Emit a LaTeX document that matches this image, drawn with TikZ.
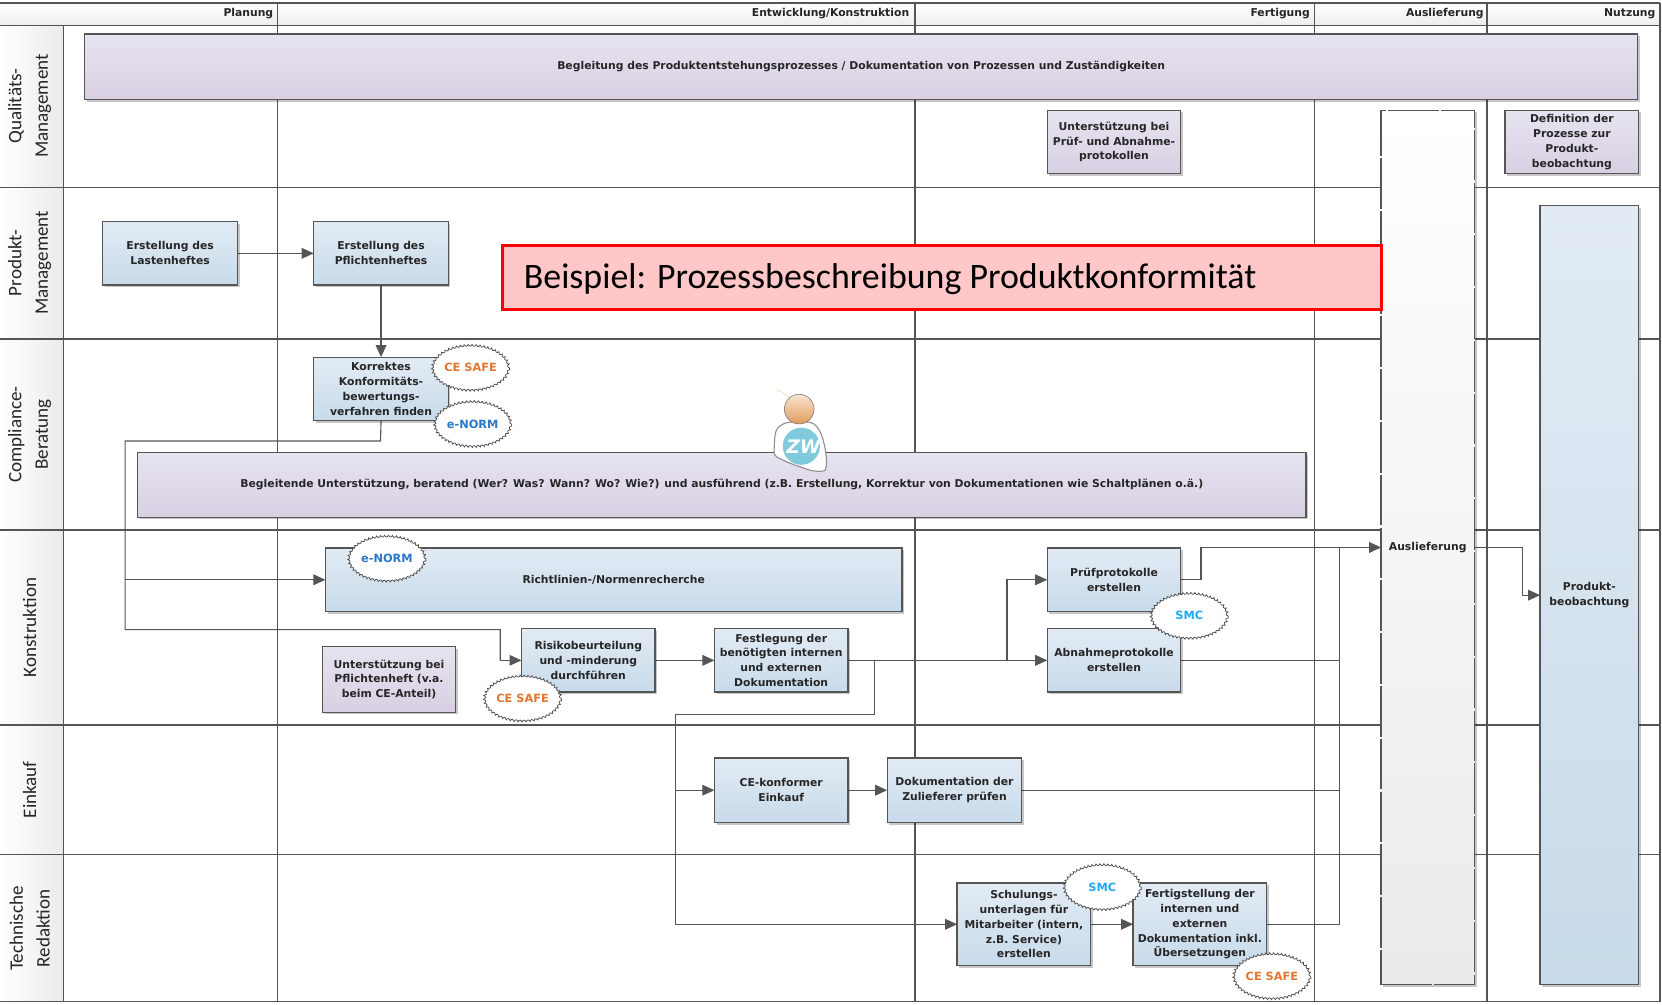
\documentclass[tikz,border=0pt]{standalone}
\usepackage{fontspec}
\setmainfont{DejaVu Sans}
\newfontfamily\carlito{Carlito}
\usetikzlibrary{arrows.meta,shapes.geometric,shadows,decorations.pathmorphing}
\pgfdeclarelayer{lanes}\pgfdeclarelayer{wires}\pgfsetlayers{lanes,wires,main}
\definecolor{ln}{HTML}{555555}
\definecolor{bluetop}{HTML}{E2EBF4}
\definecolor{bluebot}{HTML}{C8DBEA}
\definecolor{purtop}{HTML}{E7E3F0}
\definecolor{purbot}{HTML}{D8D0E2}
\tikzset{
  x=0.795pt,y=-0.795pt,
  basebox/.style={rectangle,draw=ln,line width=1pt,align=center,inner sep=0pt,outer sep=0pt,text=black!85,
    font=\fontsize{8.1}{11.1}\selectfont\bfseries,
    drop shadow={shadow xshift=1.6pt,shadow yshift=-1.6pt,opacity=.22,fill=black}},
  bluebox/.style={basebox,top color=bluetop,bottom color=bluebot},
  purplebox/.style={basebox,top color=purtop,bottom color=purbot},
  whitebox/.style={basebox,top color=white,bottom color=black!8,dash pattern=on 38pt off 1.6pt},
  conn/.style={draw=ln,line width=.85pt},
  arr/.style={conn,-{Triangle[length=9pt,width=8pt,fill=ln]}},
  lane/.style={draw=ln,line width=1.15pt},
  hdr/.style={anchor=east,inner sep=0pt,font=\fontsize{8.1}{9}\selectfont\bfseries,text=black!85},
  rowlab/.style={rotate=90,align=center,inner sep=0pt,font=\carlito\fontsize{14.3}{20}\selectfont,text=black!85},
  cloudy/.style={ellipse,draw=black!70,line width=.55pt,fill=white,decorate,
    decoration={bumps,segment length=6pt,amplitude=1.3pt},inner sep=0pt,
    minimum width=58pt,minimum height=35pt,font=\fontsize{8.5}{9}\selectfont\bfseries},
  orangetxt/.style={text={rgb,255:red,226;green,118;blue,47}},
  bluetxt/.style={text={rgb,255:red,40;green,120;blue,200}},
  skytxt/.style={text={rgb,255:red,30;green,170;blue,250}},
}
\newcommand\bx[7]{%
  \pgfmathsetmacro\bxw{(#4-#2)*0.795}\pgfmathsetmacro\bxh{(#5-#3)*0.795}%
  \pgfmathsetmacro\bxcx{(#2+#4)/2}\pgfmathsetmacro\bxcy{(#3+#5)/2}%
  \node[#6,minimum width=\bxw pt,minimum height=\bxh pt] (#1) at (\bxcx,\bxcy) {#7};}
\begin{document}
\begin{tikzpicture}
\useasboundingbox (0,0) rectangle (1568,948);
\begin{pgfonlayer}{lanes}
  \shade[top color=white,bottom color=black!7] (0,3) rectangle (1566,24);
  \shade[left color=white,right color=black!8] (0,24) rectangle (60,945);
  \draw[lane] (0,3) -- (1566,3) (0,24) -- (1566,24) (0,945) -- (1566,945) (1566,3) -- (1566,945);
  \draw[lane] (60,24) -- (60,945);
  \draw[lane] (262,3) -- (262,945);
  \draw[lane] (863,3) -- (863,945);
  \draw[lane] (1240,3) -- (1240,945);
  \draw[lane] (1403,3) -- (1403,945);
  \draw[lane] (0,177) -- (1566,177) (0,320) -- (1566,320) (0,500) -- (1566,500) (0,684) -- (1566,684) (0,806) -- (1566,806);
\end{pgfonlayer}
\node[hdr] (h1) at (258,13) {Planung};
\node[hdr] (h2) at (858,13) {Entwicklung/Konstruktion};
\node[hdr] (h3) at (1236,13) {Fertigung};
\node[hdr] (h4) at (1400,13) {Auslieferung};
\node[hdr] (h5) at (1562,13) {Nutzung};
\node[rowlab] (r1) at (28,100) {Qualitäts-\\Management};
\node[rowlab] (r2) at (28,248) {Produkt-\\Management};
\node[rowlab] (r3) at (28,410) {Compliance-\\Beratung};
\node[rowlab] (r4) at (28,592) {Konstruktion};
\node[rowlab] (r5) at (28,745) {Einkauf};
\node[rowlab] (r6) at (28,876) {Technische\\Redaktion};
\bx{qm}{80}{32}{1545}{94}{purplebox}{Begleitung des Produktentstehungsprozesses / Dokumentation von Prozessen und Zuständigkeiten}
\bx{upruef}{988}{104}{1114}{164}{purplebox}{Unterstützung bei\\Prüf- und Abnahme-\\protokollen}
\bx{defi}{1420}{104}{1546}{164}{purplebox}{Definition der\\Prozesse zur\\Produkt-\\beobachtung}
\bx{ausl}{1303}{104}{1391}{929}{whitebox}{Auslieferung}
\bx{prod}{1453}{194}{1546}{929}{bluebox}{Produkt-\\beobachtung}
\bx{last}{97}{209}{224}{269}{bluebox}{Erstellung des\\Lastenheftes}
\bx{pfl}{296}{209}{423}{269}{bluebox}{Erstellung des\\Pflichtenheftes}
\bx{korr}{296}{337}{423}{397}{bluebox}{Korrektes\\Konformitäts-\\bewertungs-\\verfahren finden}
\bx{begl}{130}{427}{1232}{488}{purplebox}{Begleitende Unterstützung, beratend (Wer? Was? Wann? Wo? Wie?) und ausführend (z.B. Erstellung, Korrektur von Dokumentationen wie Schaltplänen o.ä.)}
\bx{richt}{307}{517}{851}{577}{bluebox}{Richtlinien-/Normenrecherche}
\bx{upfl}{304}{610}{430}{672}{purplebox}{Unterstützung bei\\Pflichtenheft (v.a.\\beim CE-Anteil)}
\bx{risk}{492}{593}{618}{653}{bluebox}{Risikobeurteilung\\und -minderung\\durchführen}
\bx{fest}{674}{593}{800}{653}{bluebox}{Festlegung der\\benötigten internen\\und externen\\Dokumentation}
\bx{ppr}{988}{517}{1114}{577}{bluebox}{Prüfprotokolle\\erstellen}
\bx{abn}{988}{593}{1114}{653}{bluebox}{Abnahmeprotokolle\\erstellen}
\bx{eink}{674}{715}{800}{776}{bluebox}{CE-konformer\\Einkauf}
\bx{zul}{837}{715}{964}{776}{bluebox}{Dokumentation der\\Zulieferer prüfen}
\bx{schul}{903}{833}{1029}{911}{bluebox}{Schulungs-\\unterlagen für\\Mitarbeiter (intern,\\z.B. Service)\\erstellen}
\bx{fert}{1069}{833}{1195}{911}{bluebox}{Fertigstellung der\\internen und\\externen\\Dokumentation inkl.\\Übersetzungen}
\node[cloudy,orangetxt] (c1) at (444,347) {CE SAFE};
\node[cloudy,bluetxt] (c2) at (446,400) {e-NORM};
\node[cloudy,bluetxt] (c3) at (365,527) {e-NORM};
\node[cloudy,skytxt] (c4) at (1122,581) {SMC};
\node[cloudy,orangetxt] (c5) at (493,659) {CE SAFE};
\node[cloudy,skytxt] (c6) at (1040,837) {SMC};
\node[cloudy,orangetxt] (c7) at (1200,921) {CE SAFE};
\node[draw=red,line width=2.2pt,fill={rgb,255:red,255;green,199;blue,199},rectangle,minimum width=659pt,minimum height=47.7pt,inner sep=0pt,outer sep=0pt] (title) at (888.5,262) {};
\node[anchor=west,inner sep=0pt,font=\carlito\fontsize{26.9}{30}\selectfont,text=black] (titletxt) at (494,263.5) {Beispiel: Prozessbeschreibung Produktkonformität};
\coordinate (j1) at (359,416);
\coordinate (j2) at (118,416);
\coordinate (j3) at (118,594);
\coordinate (j4) at (472,594);
\coordinate (j5) at (118,547);
\coordinate (j6) at (950,623);
\coordinate (j7) at (825,623);
\coordinate (j8) at (825,674);
\coordinate (j9) at (637,674);
\coordinate (j10) at (637,745.5);
\coordinate (j11) at (1264,745.5);
\coordinate (j12) at (1264,623);
\coordinate (j13) at (1264,872);
\coordinate (j14) at (1264,516.5);
\coordinate (j15) at (1133,547);
\coordinate (j16) at (1133,516.5);
\coordinate (j17) at (1436,516.5);
\coordinate (j18) at (1436,561.5);
\coordinate (j19) at (472,623);
\coordinate (j20) at (637,872);
\begin{pgfonlayer}{wires}
  \draw[arr] (last) -- (pfl);
  \draw[arr] (pfl) -- (korr);
  \draw[conn] (korr.south) -- (j1) -- (j2) -- (j3) -- (j4) -- (j19);
  \draw[arr] (j19) -- (risk.west);
  \draw[arr] (j5) -- (richt.west);
  \draw[arr] (risk) -- (fest);
  \draw[conn] (fest.east) -- (j6);
  \draw[arr] (j6) -- (abn.west);
  \draw[arr] (j6) |- (ppr.west);
  \draw[conn] (j7) -- (j8) -- (j9) -- (j20);
  \draw[arr] (j10) -- (eink.west);
  \draw[arr] (j20) -- (schul.west);
  \draw[arr] (eink) -- (zul);
  \draw[arr] (schul) -- (fert);
  \draw[conn] (zul.east) -- (j11);
  \draw[conn] (abn.east) -- (j12);
  \draw[conn] (fert.east) -- (j13) -- (j14);
  \draw[arr] (j14) -- (ausl.west);
  \draw[conn] (ppr.east) -- (j15) -- (j16) -- (j14);
  \draw[arr] (ausl.east) -- (j17) -- (j18) -- (prod.west);
\end{pgfonlayer}
\draw[orange!40,line width=.4pt] (733,367) -- (745,375);
\draw[black!45,line width=.8pt,fill=white,rounded corners=3pt] (730,430) -- (731,411) .. controls (733,403) and (738,400) .. (745,398) -- (765,398) .. controls (775,405) and (779,420) .. (780,440) .. controls (778,445) and (770,445) .. (762,443) -- (745,437) -- cycle;
\definecolor{zwteal}{HTML}{7FCBDD}
\definecolor{headlo}{HTML}{DE9A5C}
\definecolor{headhi}{HTML}{FBE6D2}
\fill[zwteal] (756,421) circle (17.5);
\node[inner sep=0pt,text=white,font=\fontsize{14}{14}\selectfont\bfseries\itshape] (zw) at (758,421) {ZW};
\shade[top color=headhi,bottom color=headlo,draw=black!55] (754,386) circle (14);
\end{tikzpicture}
\end{document}
